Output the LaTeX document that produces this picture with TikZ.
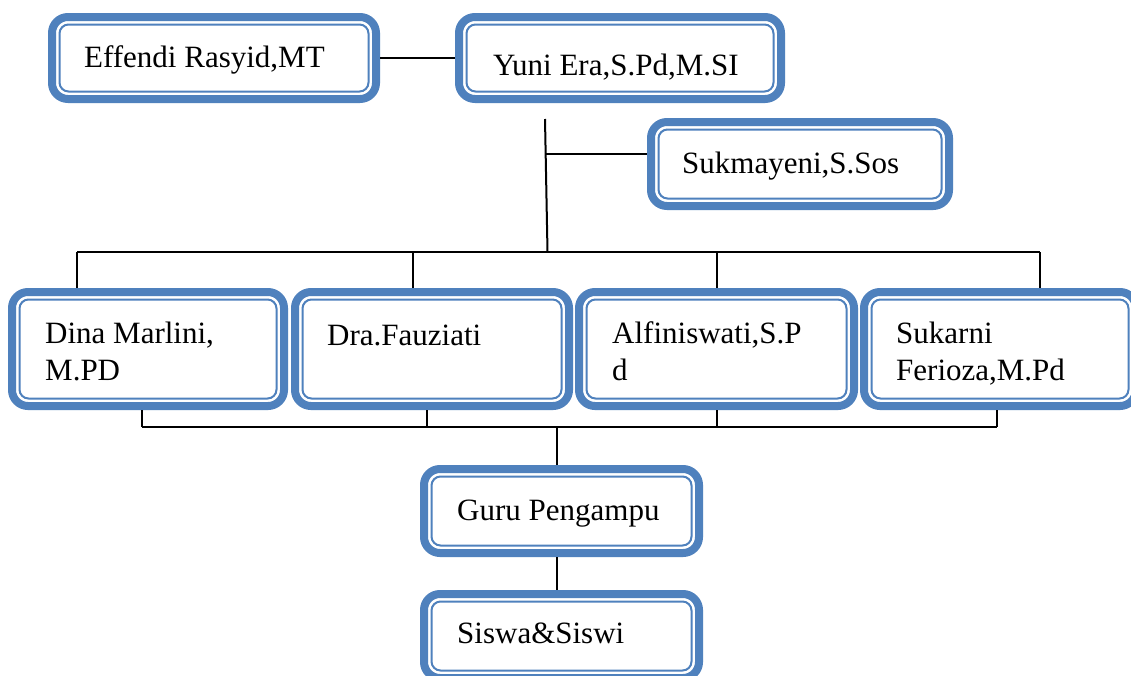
\documentclass[tikz,border=0pt]{standalone}
\usepackage{fontspec}
\setmainfont{Liberation Serif}
\definecolor{boxblue}{HTML}{4F81BD}
\tikzset{
  band/.style={draw=boxblue, line width=8pt, rounded corners=16pt},
  thinline/.style={draw=boxblue, line width=2pt, rounded corners=9pt},
  anchorbox/.style={inner sep=0pt, outer sep=0pt},
  label/.style={anchor=base west, inner sep=0pt, align=left,
    font=\fontsize{31}{37}\selectfont},
  conn/.style={draw=black, line width=2pt}
}
\newcommand\orgbox[5]{%
  \path (#2,#3) coordinate (#1-a) (#4,#5) coordinate (#1-b);
  \node[anchorbox, fit=(#1-a)(#1-b)] (#1) {};
  \draw[band] ([shift={(4,4)}]#1.north west) rectangle ([shift={(-4,-4)}]#1.south east);
  \draw[thinline] ([shift={(11.5,11.5)}]#1.north west) rectangle ([shift={(-11.5,-11.5)}]#1.south east);
}
\usetikzlibrary{fit}
\begin{document}
\begin{tikzpicture}[x=1pt,y=-1pt]
\clip (0,0) rectangle (1131,675);
\fill[white] (0,0) rectangle (1131,675);
\coordinate (v1) at (545,119);
\coordinate (hub) at (547.5,252);
\coordinate (b1) at (545.8,154);
\coordinate (h1) at (77,252);
\coordinate (h2) at (413,252);
\coordinate (h3) at (717,252);
\coordinate (h4) at (1040,252);
\coordinate (l1) at (142,427);
\coordinate (l2) at (427,427);
\coordinate (l3) at (717,427);
\coordinate (l4) at (997,427);
\coordinate (lm) at (557,427);

\orgbox{eff}{48}{13}{380}{103}
\orgbox{yuni}{455}{13}{785}{103}
\orgbox{suk}{647}{118}{953}{210}
\orgbox{dina}{8}{288}{288}{410}
\orgbox{dra}{291}{288}{573}{410}
\orgbox{alf}{575}{288}{858}{410}
\orgbox{skr}{860}{288}{1140}{410}
\orgbox{guru}{420}{465}{703}{557}
\orgbox{sis}{420}{590}{703}{682}

\draw[conn] (eff.east) -- (yuni.west);
\draw[conn] (v1) -- (hub);
\draw[conn] (b1) -- (b1 -| suk.west);
\draw[conn] (h1) -- (h4);
\draw[conn] (h1) -- (h1 |- dina.north);
\draw[conn] (h2) -- (h2 |- dra.north);
\draw[conn] (h3) -- (h3 |- alf.north);
\draw[conn] (h4) -- (h4 |- skr.north);
\draw[conn] (l1) -- (l4);
\draw[conn] (l1) -- (l1 |- dina.south);
\draw[conn] (l2) -- (l2 |- dra.south);
\draw[conn] (l3) -- (l3 |- alf.south);
\draw[conn] (l4) -- (l4 |- skr.south);
\draw[conn] (lm) -- (lm |- guru.north);
\draw[conn] (lm |- guru.south) -- (lm |- sis.north);

\node[label] (teff) at (84,67) {Effendi Rasyid,MT};
\node[label] (tyuni) at (493,75) {Yuni Era,S.Pd,M.SI};
\node[label] (tsuk) at (682,173) {Sukmayeni,S.Sos};
\node[label] (tdina) at (45,380) {Dina Marlini,\\M.PD};
\node[label] (tdra) at (327,345) {Dra.Fauziati};
\node[label] (talf) at (612,380) {Alfiniswati,S.P\\d};
\node[label] (tskr) at (896,380) {Sukarni\\Ferioza,M.Pd};
\node[label] (tguru) at (457,520) {Guru Pengampu};
\node[label] (tsis) at (457,643) {Siswa\&Siswi};
\end{tikzpicture}
\end{document}
